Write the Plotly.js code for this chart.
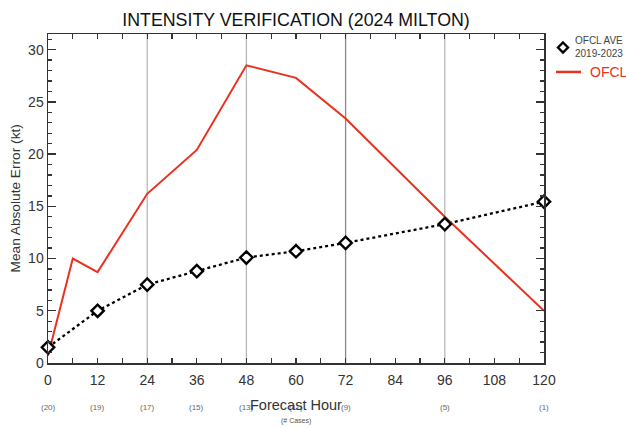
<!DOCTYPE html>
<html>
<head>
<meta charset="utf-8">
<script src="https://cdn.plot.ly/plotly-3.0.1.min.js"></script>
<style>html,body{margin:0;padding:0;background:#fff;}#chart{width:626px;height:428px;}</style>
</head>
<body>
<div id="chart"></div>
<script>
// ---- data ----
var ofclHours = [0, 6, 12, 24, 36, 48, 60, 72, 96, 120];
var ofclError = [0.7, 10.0, 8.7, 16.2, 20.4, 28.5, 27.3, 23.4, 14.0, 5.0];
var aveHours = [0, 12, 24, 36, 48, 60, 72, 96, 120];
var aveError = [1.5, 5.0, 7.5, 8.8, 10.1, 10.7, 11.5, 13.3, 15.45];
var tickHours = [0, 12, 24, 36, 48, 60, 72, 84, 96, 108, 120];
var tickLabels = ["0", "12", "24", "36", "48", "60", "72", "84", "96", "108", "120"];
var caseCounts = ["(20)", "(19)", "(17)", "(15)", "(13)", "(11)", "(9)", "", "(5)", "", "(1)"];
var gridHours = [24, 48, 72, 96];
var gridColors = ["#b8b8b8", "#b8b8b8", "#8a8a8a", "#b8b8b8"];

var FONT = "Liberation Sans, Arial, sans-serif";
var RED = "#e8321f";

var traces = [
  {x: aveHours, y: aveError, mode: "lines", type: "scatter",
   line: {color: "#000", width: 2.3, dash: "dot"},
   showlegend: false, cliponaxis: false},
  {x: ofclHours, y: ofclError, mode: "lines", type: "scatter",
   line: {color: RED, width: 2}, showlegend: false, cliponaxis: false},
  {x: aveHours, y: aveError, mode: "markers", type: "scatter",
   marker: {symbol: "diamond", size: 9.5, color: "#fff", line: {color: "#000", width: 2.4}},
   showlegend: false, cliponaxis: false}
];

var shapes = gridHours.map(function (h, i) {
  return {type: "line", xref: "x", yref: "paper", x0: h, x1: h, y0: 0, y1: 1,
          line: {color: gridColors[i], width: 1.3}, layer: "below"};
});
// legend symbols
shapes.push({type: "path", xref: "paper", yref: "paper", xsizemode: "pixel", ysizemode: "pixel",
  xanchor: (563 - 48) / 496, yanchor: (363.5 - 47.5) / 329.5,
  path: "M0,5 L5,0 L0,-5 L-5,0 Z", fillcolor: "#fff", line: {color: "#000", width: 2.4}});
shapes.push({type: "line", xref: "paper", yref: "paper",
  x0: (556 - 48) / 496, x1: (581 - 48) / 496, y0: (363.5 - 72) / 329.5, y1: (363.5 - 72) / 329.5,
  line: {color: RED, width: 2.5}});

var annotations = [];
tickHours.forEach(function (h, i) {
  if (caseCounts[i]) {
    annotations.push({x: h, y: 0, xref: "x", yref: "paper", yshift: -44.5, yanchor: "middle",
      text: caseCounts[i], showarrow: false, font: {family: FONT, size: 8, color: "#666"}});
  }
});
annotations.push({x: 0.5, y: 0, xref: "paper", yref: "paper", yshift: -42, yanchor: "middle",
  text: "Forecast Hour", showarrow: false, font: {family: FONT, size: 14.5, color: "#333"}});
annotations.push({x: 0.5, y: 0, xref: "paper", yref: "paper", yshift: -58, yanchor: "middle",
  text: "(# Cases)", showarrow: false, font: {family: FONT, size: 7, color: "#555"}});
annotations.push({x: 0, y: 0.5, xref: "paper", yref: "paper", xshift: -33, xanchor: "center",
  text: "Mean Absolute Error (kt)", textangle: -90, showarrow: false,
  font: {family: FONT, size: 13.7, color: "#333"}});
annotations.push({x: (573 - 48) / 496, y: (363.5 - 47.5) / 329.5, xref: "paper", yref: "paper",
  xanchor: "left", yanchor: "middle", align: "left",
  text: "OFCL AVE<br>2019-2023", showarrow: false,
  font: {family: FONT, size: 10, color: "#444", lineposition: "none"}});
annotations.push({x: (588 - 48) / 496, y: (363.5 - 72) / 329.5, xref: "paper", yref: "paper",
  xanchor: "left", yanchor: "middle", text: "OFCL", showarrow: false,
  font: {family: FONT, size: 14, color: RED}});

var layout = {
  width: 626, height: 428,
  margin: {l: 48, r: 82, t: 34, b: 64.5, pad: 0},
  paper_bgcolor: "#fff", plot_bgcolor: "#fff",
  font: {family: FONT, color: "#333"},
  title: {text: "INTENSITY VERIFICATION (2024 MILTON)", x: 296 / 626, xanchor: "center",
          y: 1 - 20 / 428, yanchor: "middle", font: {family: FONT, size: 17.8, color: "#111"}},
  xaxis: {range: [0, 120], tickvals: tickHours, ticktext: tickLabels, ticks: "inside", ticklen: 5,
          tickwidth: 1.3, tickcolor: "#333", showgrid: false, zeroline: false,
          showline: true, linecolor: "#333", linewidth: 1.5, mirror: "allticks",
          ticklabelstandoff: 4,
          tickfont: {family: FONT, size: 14, color: "#333"},
          minor: {dtick: 6, tick0: 0, ticks: "inside", ticklen: 5, tickwidth: 1.3, tickcolor: "#333", showgrid: false}},
  yaxis: {range: [0, 31.5], dtick: 5, tick0: 0, ticks: "inside", ticklen: 8, tickwidth: 1.3, tickcolor: "#333",
          showgrid: false, zeroline: false, showline: true, linecolor: "#333", linewidth: 1.5, mirror: "allticks",
          tickfont: {family: FONT, size: 14, color: "#333"},
          minor: {dtick: 1, tick0: 0, ticks: "inside", ticklen: 4, tickwidth: 1.3, tickcolor: "#333", showgrid: false}},
  shapes: shapes,
  annotations: annotations,
  showlegend: false
};

Plotly.newPlot("chart", traces, layout, {displayModeBar: false, staticPlot: true});
</script>
</body>
</html>
